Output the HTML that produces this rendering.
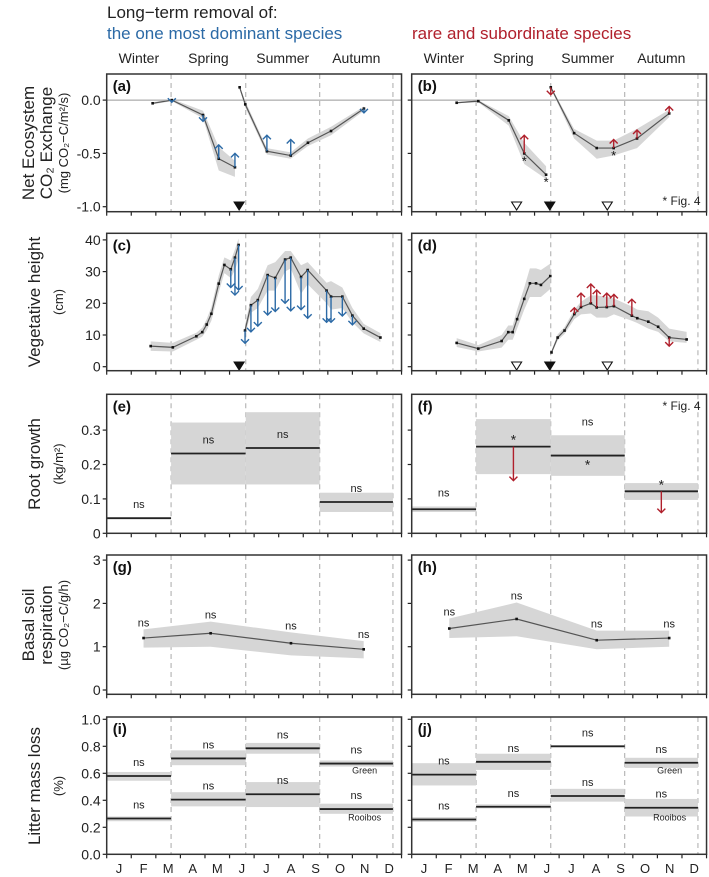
<!DOCTYPE html>
<html><head><meta charset="utf-8"><style>
html,body{margin:0;padding:0;background:#fff;}
svg{display:block;font-family:"Liberation Sans",Arial,sans-serif;}
</style></head><body>
<svg id="fig" width="709" height="877" viewBox="0 0 709 877" xmlns="http://www.w3.org/2000/svg">
<text x="107" y="18" font-size="17" fill="#222">Long−term removal of:</text>
<text x="107" y="39" font-size="17" fill="#2c6aa6">the one most dominant species</text>
<text x="412" y="39" font-size="17" fill="#b0202c">rare and subordinate species</text>
<g id="root"></g>
</svg>
<script>
// ---------- data (month units: 0 = 1 Jan, 12 = 31 Dec) ----------
const seasonNames = ["Winter","Spring","Summer","Autumn"];
const seasonBounds = [0, 2.62, 5.66, 8.67, 11.65];
const monthLabels = ["J","F","M","A","M","J","J","A","S","O","N","D"];

// (a) NEE, dominant removal
const aM1 = [1.87,2.65,3.92,4.56,5.22];
const aV1 = [-0.03,0.0,-0.14,-0.55,-0.63];
const aLo1 = [-0.04,-0.01,-0.17,-0.66,-0.72];
const aHi1 = [-0.02,0.01,-0.10,-0.44,-0.57];
const aT1 = [NaN,-0.02,-0.20,-0.42,-0.50];
const aM2 = [5.41,5.64,6.52,7.49,8.19,9.13,10.47];
const aV2 = [0.12,-0.04,-0.48,-0.52,-0.40,-0.29,-0.08];
const aLo2 = [0.11,-0.07,-0.51,-0.55,-0.43,-0.33,-0.10];
const aHi2 = [0.13,-0.01,-0.45,-0.49,-0.36,-0.25,-0.06];
const aT2 = [NaN,NaN,-0.33,-0.37,NaN,NaN,-0.12];

// (b) NEE, rare removal
const bM1 = [1.83,2.71,3.95,4.58,5.47];
const bV1 = [-0.025,-0.01,-0.19,-0.50,-0.70];
const bLo1 = [-0.03,-0.02,-0.24,-0.60,-0.74];
const bHi1 = [-0.02,0.0,-0.15,-0.40,-0.62];
const bT1 = [NaN,NaN,NaN,-0.33,NaN];
const bStar1 = [0,0,0,1,1];
const bM2 = [5.66,6.61,7.53,8.22,9.17,10.48];
const bV2 = [0.12,-0.31,-0.45,-0.45,-0.36,-0.125];
const bLo2 = [0.11,-0.36,-0.55,-0.52,-0.45,-0.16];
const bHi2 = [0.13,-0.27,-0.38,-0.38,-0.27,-0.09];
const bT2 = [0.05,NaN,NaN,-0.37,-0.28,-0.06];
const bStar2 = [0,0,0,1,0,0];

// (c) vegetative height, dominant removal
const cM1 = [1.79,2.69,3.65,3.89,4.07,4.26,4.56,4.79,5.05,5.22,5.37];
const cV1 = [6.5,6.1,9.6,10.9,13.3,16.7,26.2,32.1,30.7,34.4,38.4];
const cLo1 = [5.0,4.8,8.5,9.5,11.5,14.5,23.5,29.5,28.0,30.5,34.0];
const cHi1 = [8.0,7.5,10.7,12.3,15.0,18.8,28.8,34.5,33.5,37.0,40.5];
const cT1 = [NaN,NaN,NaN,NaN,NaN,NaN,NaN,NaN,25.0,22.6,24.2];
const cM2 = [5.63,5.87,6.15,6.55,6.86,7.26,7.49,7.91,8.18,8.95,9.13,9.59,10.0,10.46,11.14];
const cV2 = [11.4,19.4,21.0,28.9,28.0,33.8,34.4,28.3,30.5,24.0,22.1,22.1,16.1,12.0,9.2];
const cLo2 = [10.0,17.0,18.5,24.0,24.0,30.0,31.0,23.0,26.0,20.0,18.0,18.5,14.0,10.5,7.8];
const cHi2 = [13.0,22.0,24.5,32.0,33.0,36.5,36.5,32.0,33.0,26.5,27.0,25.0,18.5,13.5,10.6];
const cT2 = [7.4,11.0,12.8,16.3,17.4,20.0,17.6,18.0,15.3,14.0,14.0,16.0,13.2,NaN,NaN];

// (d) vegetative height, rare removal
const dM1 = [1.83,2.71,3.66,3.93,4.11,4.29,4.58,4.81,5.06,5.26,5.64];
const dV1 = [7.5,5.7,8.1,10.9,10.9,15.0,21.4,26.3,26.3,25.8,28.6];
const dLo1 = [6.2,4.8,6.0,8.5,8.5,12.0,18.0,22.0,22.0,22.0,24.5];
const dHi1 = [9.0,6.8,10.0,13.0,13.0,18.0,25.0,31.0,31.0,30.5,32.5];
const dT1 = [NaN,NaN,NaN,NaN,NaN,NaN,NaN,NaN,NaN,NaN,NaN];
const dM2 = [5.69,5.94,6.22,6.62,6.89,7.29,7.53,7.94,8.23,8.96,9.18,9.63,10.03,10.48,11.19];
const dV2 = [4.5,9.2,11.4,16.6,18.8,20.0,18.7,18.8,19.1,16.1,15.3,14.2,12.6,9.2,8.6];
const dLo2 = [4.0,8.3,10.3,15.0,16.5,16.8,15.5,15.5,16.5,14.5,13.8,12.0,11.0,8.0,7.5];
const dHi2 = [5.0,10.2,12.5,18.0,20.5,22.5,22.5,22.0,21.5,19.0,18.0,17.5,15.5,12.0,11.0];
const dT2 = [NaN,NaN,NaN,18.6,23.2,26.1,24.2,23.2,22.8,21.3,NaN,NaN,NaN,6.5,NaN];

// (e),(f) root growth per season
const eMean = [0.044,0.232,0.248,0.091];
const eLo = [0.044,0.142,0.142,0.062];
const eHi = [0.044,0.322,0.352,0.118];
const fMean = [0.070,0.252,0.226,0.122];
const fLo = [0.062,0.172,0.167,0.097];
const fHi = [0.078,0.332,0.285,0.146];
const fArrow = [NaN,0.153,NaN,0.060];
const fLabel = ["ns","*","ns","*"];

// (g),(h) basal soil respiration
const gM = [1.50,4.23,7.50,10.46];
const gV = [1.20,1.31,1.08,0.94];
const gLo = [0.98,1.00,0.80,0.73];
const gHi = [1.40,1.58,1.33,1.13];
const hM = [1.53,4.27,7.53,10.48];
const hV = [1.42,1.64,1.15,1.20];
const hLo = [1.20,1.24,0.94,1.00];
const hHi = [1.65,2.02,1.37,1.37];

// (i),(j) litter mass loss
const iGreen = [0.580,0.710,0.785,0.672];
const iGreenLo = [0.545,0.660,0.745,0.650];
const iGreenHi = [0.610,0.770,0.825,0.695];
const iRoo = [0.265,0.405,0.445,0.335];
const iRooLo = [0.245,0.355,0.350,0.300];
const iRooHi = [0.280,0.460,0.535,0.375];
const jGreen = [0.590,0.685,0.800,0.678];
const jGreenLo = [0.510,0.625,0.800,0.640];
const jGreenHi = [0.675,0.745,0.800,0.715];
const jRoo = [0.258,0.352,0.432,0.345];
const jRooLo = [0.240,0.340,0.390,0.280];
const jRooHi = [0.275,0.370,0.485,0.410];

// ---------- drawing ----------
const NS = "http://www.w3.org/2000/svg";
const root = document.getElementById("root");
const BLUE = "#2c6aa6", RED = "#b0202c", BAND = "#d6d6d6", LINE = "#555";
const MW = 24.57;
const colX = [106.7, 411.7];
function el(tag, attrs, parent) {
  const e = document.createElementNS(NS, tag);
  for (const k in attrs) e.setAttribute(k, attrs[k]);
  (parent || root).appendChild(e);
  return e;
}
let yScale, yZeroPix;
function panel(col, top, bot, yMin, yMax, yTicks, tickFmt, letter) {
  const x0 = colX[col], x1 = x0 + 12 * MW;
  const scale = yScale;
  const yZero = yZeroPix;
  const g = el("g", {});
  
  
  const P = {
    g, x0, x1, top, bot,
    x: m => x0 + m * MW,
    y: v => yZero - (v - yMin) * scale
  };
  for (let i = 1; i < seasonBounds.length; i++) {
    const l = el("line", {x1: P.x(seasonBounds[i]), x2: P.x(seasonBounds[i]), y1: top, y2: bot, stroke: "#aaa", "stroke-width": 1, "stroke-dasharray": "5,4"}, g);
    
    
  }
  for (let m = 0; m <= 12; m++) {
    el("line", {x1: P.x(m), x2: P.x(m), y1: bot, y2: bot + 4, stroke: "#222", "stroke-width": 1.2}, g);
  }
  yTicks.forEach(v => {
    el("line", {x1: x0 - 4, x2: x0, y1: P.y(v), y2: P.y(v), stroke: "#222", "stroke-width": 1.2}, g);
    if (col === 0) {
      const t = el("text", {x: x0 - 6, y: P.y(v) + 5, "font-size": 14, "text-anchor": "end", fill: "#222"}, g);
      t.textContent = tickFmt(v);
      
      
    }
  });
  const lt = el("text", {x: x0 + 6, y: top + 17, "font-size": 15, "font-weight": "bold", fill: "#111"}, g);
  lt.textContent = "(" + letter + ")";
  
  
  P.frame = () => {
    const f = el("rect", {x: x0, y: top, width: x1 - x0, height: bot - top, fill: "none", stroke: "#333", "stroke-width": 1.5}, g);
    
    
  };
  return P;
}

function arrowHead(g, x, yTip, dir, color) {
  const s = 4;
  el("polyline", {points: `${x - s},${yTip - dir * s} ${x},${yTip} ${x + s},${yTip - dir * s}`, fill: "none", stroke: color, "stroke-width": 1.4}, g);
}
function series(P, M, V, Lo, Hi, T, color, stars) {
  const g = P.g;
  const band = M.map((m, i) => `${P.x(m)},${P.y(Hi[i])}`).concat(M.map((m, i) => `${P.x(m)},${P.y(Lo[i])}`).reverse()).join(" ");
  const b = el("polygon", {points: band, fill: BAND, stroke: "none"}, g);
  
  
  const ln = el("polyline", {points: M.map((m, i) => `${P.x(m)},${P.y(V[i])}`).join(" "), fill: "none", stroke: LINE, "stroke-width": 1.2}, g);
  
  
  M.forEach((m, i) => {
    const p = el("rect", {x: P.x(m) - 1.3, y: P.y(V[i]) - 1.3, width: 2.6, height: 2.6, fill: "#111"}, g);
    
    
    if (!isNaN(T[i])) {
      const x = P.x(m), ya = P.y(V[i]), yb = P.y(T[i]);
      const a = el("line", {x1: x, x2: x, y1: ya, y2: yb, stroke: color, "stroke-width": 1.4}, g);
      
      
      arrowHead(g, x, yb, yb > ya ? 1 : -1, color);
    }
    if (stars && stars[i]) {
      const s = el("text", {x: P.x(m), y: P.y(V[i]) + 12, "font-size": 13, "text-anchor": "middle", fill: "#111"}, g);
      s.textContent = "*";
    }
  });
}
function tri(P, m, y, filled) {
  const x = P.x(m);
  const t = el("polygon", {points: `${x - 5},${y - 8} ${x + 5},${y - 8} ${x},${y}`, fill: filled ? "#111" : "#fff", stroke: "#111", "stroke-width": 1.1}, P.g);
  
  
}
function txt(g, x, y, s, size, anchor, name) {
  const t = el("text", {x, y, "font-size": size, "text-anchor": anchor || "middle", fill: "#222"}, g);
  t.textContent = s;
  
  
  return t;
}
function bars(P, Mean, Lo, Hi, labels, arrows, color) {
  for (let s = 0; s < 4; s++) {
    const xa = P.x(seasonBounds[s]), xb = P.x(seasonBounds[s + 1]);
    if (Hi[s] > Lo[s]) {
      const r = el("rect", {x: xa, y: P.y(Hi[s]), width: xb - xa, height: P.y(Lo[s]) - P.y(Hi[s]), fill: BAND}, P.g);
      
      
    }
    const l = el("line", {x1: xa, x2: xb, y1: P.y(Mean[s]), y2: P.y(Mean[s]), stroke: "#222", "stroke-width": 1.8}, P.g);
    
    
    const xc = (xa + xb) / 2;
    if (labels) {
      const lab = labels[s];
      if (lab === "*") txt(P.g, xc, P.y(Mean[s]) - 2, "*", 14);
      else txt(P.g, xc, Math.max(P.y(Hi[s]), P.y(Mean[s])) - 10, lab, 11);
    }
    if (arrows && !isNaN(arrows[s])) {
      const ya = P.y(Mean[s]), yb = P.y(arrows[s]);
      const a = el("line", {x1: xc, x2: xc, y1: ya, y2: yb, stroke: color, "stroke-width": 1.4}, P.g);
      
      
      arrowHead(P.g, xc, yb, 1, color);
    }
  }
}

seasonNames.forEach((s, i) => {
  [0, 1].forEach(c => {
    const xa = colX[c] + seasonBounds[i] * MW, xb = colX[c] + seasonBounds[i + 1] * MW;
    txt(root, (xa + xb) / 2, 63, s, 14, "middle", "season-label");
  });
});

const f2 = v => v.toFixed(1);
for (let c = 0; c < 2; c++) {
  yScale = 106.6; yZeroPix = 206.7;
  const P = panel(c, 74, 211.7, -1.0, 0.245, [0, -0.5, -1.0], f2, c ? "b" : "a");
  el("line", {x1: P.x0, x2: P.x1, y1: P.y(0), y2: P.y(0), stroke: "#999", "stroke-width": 1}, P.g);
  if (c === 0) {
    series(P, aM1, aV1, aLo1, aHi1, aT1, BLUE);
    series(P, aM2, aV2, aLo2, aHi2, aT2, BLUE);
    tri(P, 5.39, 210, true);
  } else {
    series(P, bM1, bV1, bLo1, bHi1, bT1, RED, bStar1);
    series(P, bM2, bV2, bLo2, bHi2, bT2, RED, bStar2);
    tri(P, 4.27, 210, false); tri(P, 7.96, 210, false); tri(P, 5.62, 210, true);
    txt(P.g, P.x1 - 6, 205, "* Fig. 4", 12, "end", "figure-reference-note");
  }
  P.frame();
}
for (let c = 0; c < 2; c++) {
  yScale = 3.17; yZeroPix = 366.7;
  const P = panel(c, 233.3, 370.7, 0, 40, [0, 10, 20, 30, 40], v => String(v), c ? "d" : "c");
  if (c === 0) {
    series(P, cM1, cV1, cLo1, cHi1, cT1, BLUE);
    series(P, cM2, cV2, cLo2, cHi2, cT2, BLUE);
    tri(P, 5.39, 370, true);
  } else {
    series(P, dM1, dV1, dLo1, dHi1, dT1, RED);
    series(P, dM2, dV2, dLo2, dHi2, dT2, RED);
    tri(P, 4.27, 370, false); tri(P, 7.96, 370, false); tri(P, 5.62, 370, true);
  }
  P.frame();
}
for (let c = 0; c < 2; c++) {
  yScale = 344; yZeroPix = 533.3;
  const P = panel(c, 394.3, 533.3, 0, 0.4, [0, 0.1, 0.2, 0.3], v => v === 0 ? "0" : v.toFixed(1), c ? "f" : "e");
  if (c === 0) bars(P, eMean, eLo, eHi, ["ns","ns","ns","ns"], null, BLUE);
  else {
    bars(P, fMean, fLo, fHi, null, fArrow, RED);
    txt(P.g, P.x(1.3), P.y(fHi[0]) - 10, "ns", 11);
    txt(P.g, P.x(4.14), P.y(fMean[1]) - 2, "*", 14);
    txt(P.g, P.x(7.16), P.y(fHi[2]) - 10, "ns", 11);
    txt(P.g, P.x(7.16), P.y(fMean[2]) + 14, "*", 14);
    txt(P.g, P.x(10.16), P.y(fMean[3]) - 2, "*", 14);
    txt(P.g, P.x1 - 6, 410, "* Fig. 4", 12, "end", "figure-reference-note");
  }
  P.frame();
}
for (let c = 0; c < 2; c++) {
  yScale = 43.3; yZeroPix = 690;
  const P = panel(c, 555, 694.3, 0, 3, [0, 1, 2, 3], v => String(v), c ? "h" : "g");
  const M = c ? hM : gM, V = c ? hV : gV, Lo = c ? hLo : gLo, Hi = c ? hHi : gHi;
  series(P, M, V, Lo, Hi, [NaN,NaN,NaN,NaN], BLUE);
  M.forEach((m, i) => txt(P.g, P.x(m), P.y(Hi[i]) - 3, "ns", 11));
  P.frame();
}
for (let c = 0; c < 2; c++) {
  yScale = 135; yZeroPix = 854.3;
  const P = panel(c, 717, 854.3, 0, 1, [0, 0.2, 0.4, 0.6, 0.8, 1.0], v => v.toFixed(1), c ? "j" : "i");
  if (c === 0) { bars(P, iGreen, iGreenLo, iGreenHi, ["ns","ns","ns","ns"], null); bars(P, iRoo, iRooLo, iRooHi, ["ns","ns","ns","ns"], null); }
  else { bars(P, jGreen, jGreenLo, jGreenHi, ["ns","ns","ns","ns"], null); bars(P, jRoo, jRooLo, jRooHi, ["ns","ns","ns","ns"], null); }
  txt(P.g, P.x(10.5), P.y(0.60), "Green", 9, "middle", "green-tea-label");
  txt(P.g, P.x(10.5), P.y(0.25), "Rooibos", 9, "middle", "rooibos-tea-label");
  monthLabels.forEach((s, i) => txt(P.g, P.x(i + 0.5), 873, s, 13, "middle", "x-tick-label"));
  P.frame();
}

function ytitle(lines, cy) {
  lines.forEach(([s, x, size]) => {
    const t = el("text", {x: 0, y: 0, "font-size": size, "text-anchor": "middle", fill: "#222", transform: `translate(${x},${cy}) rotate(-90)`});
    t.textContent = s;
    
    
  });
}
ytitle([["Net Ecosystem", 34, 17], ["CO₂ Exchange", 52, 17], ["(mg CO₂−C/m²/s)", 68, 13]], 143);
ytitle([["Vegetative height", 40, 17], ["(cm)", 63, 13]], 302);
ytitle([["Root growth", 40, 17], ["(kg/m²)", 63, 13]], 464);
ytitle([["Basal soil", 34, 17], ["respiration", 52, 17], ["(µg CO₂−C/g/h)", 68, 13]], 625);
ytitle([["Litter mass loss", 40, 17], ["(%)", 63, 13]], 786);
</script>
</body></html>
